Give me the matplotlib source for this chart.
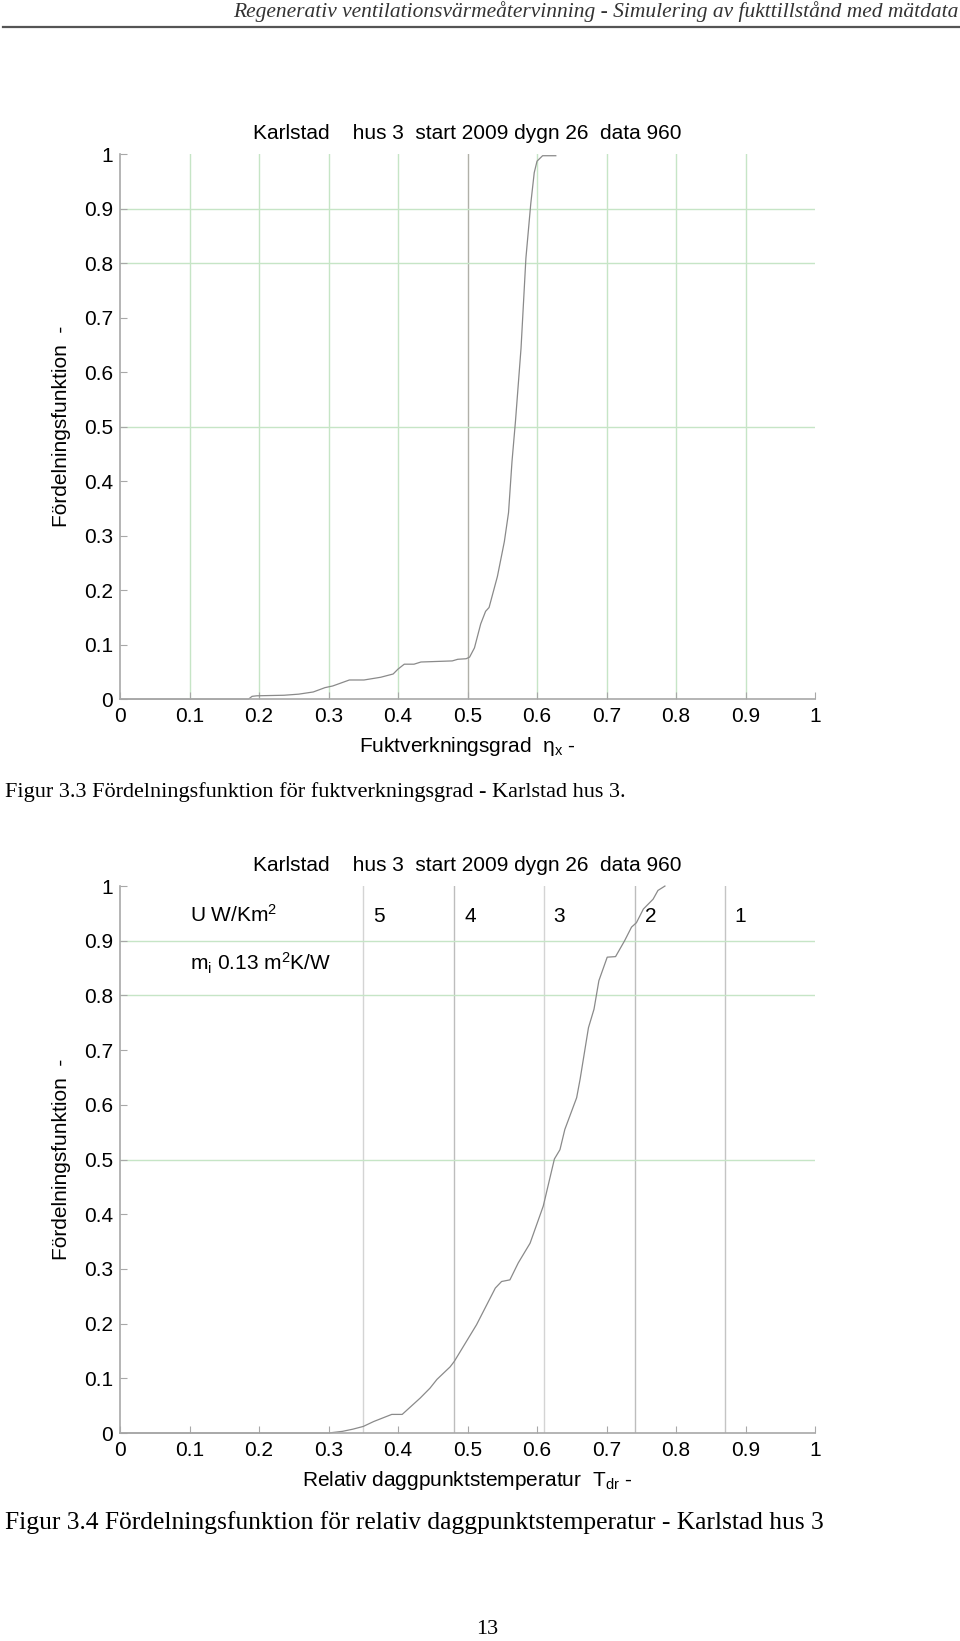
import numpy as np
import matplotlib
matplotlib.use('Agg')
import matplotlib.pyplot as plt

plt.rcParams['font.family'] = ['Liberation Sans', 'DejaVu Sans']
plt.rcParams['mathtext.fontset'] = 'custom'
plt.rcParams['mathtext.rm'] = 'Liberation Sans'
plt.rcParams['mathtext.it'] = 'Liberation Sans:italic'

# data
# figur 3.3 - fuktverkningsgrad
eta_x = [0.0, 0.185, 0.19, 0.197, 0.236, 0.257, 0.278, 0.295, 0.306, 0.330, 0.351,
         0.375, 0.393, 0.400, 0.409, 0.423, 0.433, 0.478, 0.486, 0.498, 0.503, 0.510,
         0.519, 0.526, 0.531, 0.543, 0.553, 0.559, 0.564, 0.569, 0.577, 0.584,
         0.591, 0.596, 0.600, 0.608, 0.627]
F_eta = [0.0, 0.0, 0.005, 0.006, 0.007, 0.009, 0.013, 0.021, 0.024, 0.035, 0.035,
         0.040, 0.046, 0.055, 0.064, 0.064, 0.068, 0.070, 0.073, 0.074, 0.077, 0.094,
         0.138, 0.161, 0.168, 0.225, 0.289, 0.342, 0.436, 0.510, 0.644, 0.809,
         0.909, 0.966, 0.987, 0.997, 0.997]

# figur 3.4 - relativ daggpunktstemperatur
T_dr = [0.0, 0.300, 0.320, 0.335, 0.350, 0.365, 0.391, 0.406, 0.432, 0.446, 0.456,
        0.475, 0.481, 0.513, 0.540, 0.549, 0.561, 0.573, 0.590, 0.609, 0.625,
        0.633, 0.640, 0.657, 0.662, 0.674, 0.682, 0.689, 0.701, 0.713, 0.726,
        0.736, 0.743, 0.753, 0.767, 0.774, 0.784]
F_T = [0.0, 0.0, 0.003, 0.007, 0.012, 0.021, 0.034, 0.034, 0.064, 0.082, 0.098,
       0.121, 0.131, 0.198, 0.265, 0.277, 0.280, 0.311, 0.347, 0.415, 0.501,
       0.518, 0.555, 0.613, 0.647, 0.741, 0.775, 0.827, 0.870, 0.871, 0.900,
       0.925, 0.933, 0.958, 0.976, 0.992, 1.0]

# U-värden och motsvarande T_dr
U_values = ['5', '4', '3', '2', '1']
U_pos = [0.350, 0.481, 0.610, 0.741, 0.870]

grid_x1 = [0.1, 0.2, 0.3, 0.4, 0.5, 0.6, 0.7, 0.8, 0.9]
grid_y = [0.5, 0.8, 0.9]

ticks = [0, 0.1, 0.2, 0.3, 0.4, 0.5, 0.6, 0.7, 0.8, 0.9, 1]
tick_labels = ['0', '0.1', '0.2', '0.3', '0.4', '0.5', '0.6', '0.7', '0.8', '0.9', '1']

title = 'Karlstad    hus 3  start 2009 dygn 26  data 960'
ylab = 'Fördelningsfunktion  -'

fs = 15
green = '#c6e5c6'
spine = '#a8a8a8'
curve = '#8a8a8a'

fig = plt.figure(figsize=(9.6, 16.41), dpi=100)

ax1 = fig.add_axes([0.125, 0.5740, 0.724, 0.3321])
ax2 = fig.add_axes([0.125, 0.12675, 0.724, 0.3333])


def style(ax, xlabel):
    ax.set_xlim(0, 1)
    ax.set_ylim(0, 1)
    for s in ['top', 'right']:
        ax.spines[s].set_visible(False)
    for s in ['left', 'bottom']:
        ax.spines[s].set_color(spine)
        ax.spines[s].set_linewidth(1.2)
    ax.set_xticks(ticks)
    ax.set_xticklabels(tick_labels)
    ax.set_yticks(ticks)
    ax.set_yticklabels(tick_labels)
    ax.tick_params(direction='in', length=5, color=spine, labelsize=fs)
    ax.tick_params(axis='x', pad=6)
    ax.tick_params(axis='y', pad=5)
    ax.set_title(title, fontsize=fs, pad=11)
    ax.set_ylabel(ylab, fontsize=fs, labelpad=9)
    ax.set_xlabel(xlabel, fontsize=fs, labelpad=6)
    for y in grid_y:
        ax.axhline(y, color=green, lw=1, zorder=0)


# figur 1
for x in grid_x1:
    c = '#b0b0a8' if x == 0.5 else green
    ax1.axvline(x, color=c, lw=1, zorder=0)
style(ax1, 'Fuktverkningsgrad  η$_{\\rm x}$ -')
ax1.plot(eta_x, F_eta, color=curve, lw=0.9, clip_on=False)

# figur 2
u_cols = ['#d4d4d4', '#bdbdbd', '#d4d4d4', '#bdbdbd', '#c4c4c4']
for x, c in zip(U_pos, u_cols):
    ax2.axvline(x, color=c, lw=1, zorder=0)
style(ax2, 'Relativ daggpunktstemperatur  T$_{\\rm dr}$ -')
ax2.plot(T_dr, F_T, color=curve, lw=0.9, clip_on=False)
for x, lab in zip(U_pos, U_values):
    ax2.annotate(lab, (x, 0.935), xytext=(7, 0), textcoords='offset points',
                 fontsize=fs, va='baseline', ha='left')
ax2.text(0.10, 0.935, r'U W/Km$^2$', fontsize=fs, va='baseline')
ax2.text(0.10, 0.845, r'm$_{\rm i}$ 0.13 m$^2$K/W', fontsize=fs, va='baseline')

# sidhuvud, figurtexter och sidnummer
fig.text(0.998, 1 - 12 / 1641, 'Regenerativ ventilationsvärmeåtervinning - Simulering av fukttillstånd med mätdata',
         family='Liberation Serif', style='italic', fontsize=15.5, ha='right', va='center',
         color='#333333')
fig.add_artist(plt.Line2D([0.003, 1.0], [1 - 27 / 1641] * 2, color='#555555', lw=1.6))
fig.text(0.005, 1 - 792 / 1641, 'Figur 3.3 Fördelningsfunktion för fuktverkningsgrad - Karlstad hus 3.',
         family='Liberation Serif', fontsize=16, ha='left', va='center')
fig.text(0.005, 1 - 1523 / 1641, 'Figur 3.4 Fördelningsfunktion för relativ daggpunktstemperatur - Karlstad hus 3',
         family='Liberation Serif', fontsize=18.4, ha='left', va='center')
fig.text(487 / 960, 1 - 1629 / 1641, '13', family='Liberation Serif', fontsize=16,
         ha='center', va='center')

fig.savefig('out.png', dpi=100, facecolor='white')
